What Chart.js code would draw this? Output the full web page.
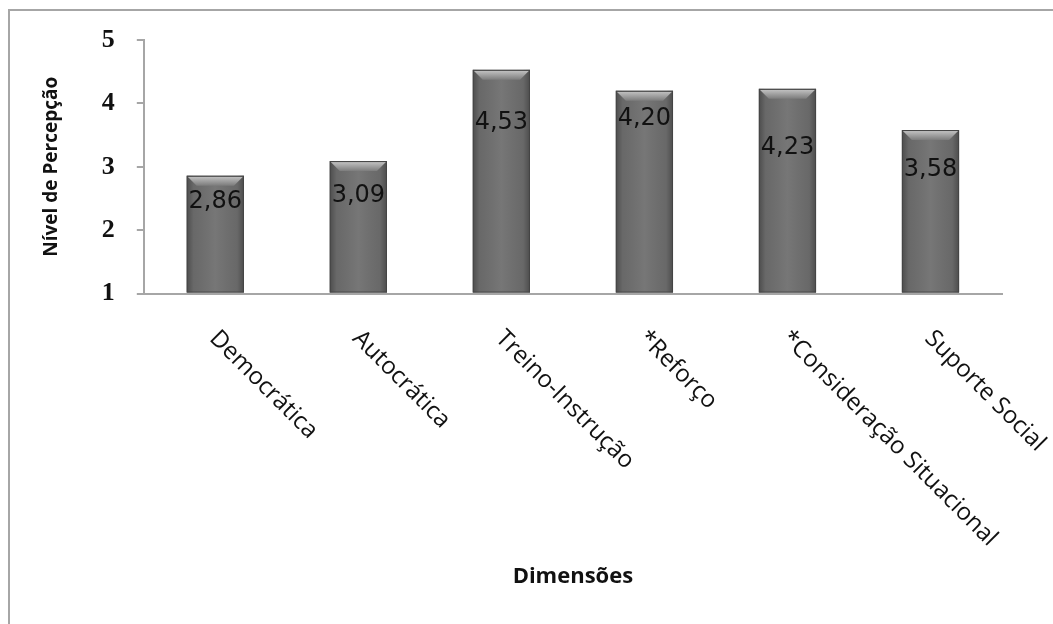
<!DOCTYPE html>
<html>
<head>
<meta charset="utf-8">
<script src="https://cdn.jsdelivr.net/npm/chart.js@4.4.1/dist/chart.umd.min.js"></script>
<style>
  html, body { margin: 0; padding: 0; background: #fff; }
  #wrap { width: 1053px; height: 624px; position: relative; }
</style>
</head>
<body>
<div id="wrap"><canvas id="grafico"></canvas></div>
<script>
// dados
var dimensoes = ["Democrática", "Autocrática", "Treino-Instrução", "*Reforço", "*Consideração Situacional", "Suporte Social"];
var percepcao = [2.86, 3.09, 4.53, 4.20, 4.23, 3.58];
var rotulos = ["2,86", "3,09", "4,53", "4,20", "4,23", "3,58"];
var ticksY = [1, 2, 3, 4, 5];

// how far below the top of each bar the number sits (px)
var descida = [26, 35, 53, 28, 59, 40];

var moldura = {
  id: "moldura",
  beforeDraw: function(chart) {
    var c = chart.ctx;
    c.save();
    c.strokeStyle = "#a6a6a6";
    c.lineWidth = 2;
    c.beginPath();
    c.moveTo(9, chart.height + 5);
    c.lineTo(9, 10);
    c.lineTo(chart.width + 5, 10);
    c.stroke();
    c.restore();
  }
};

var barras3d = {
  id: "barras3d",
  afterDatasetsDraw: function(chart) {
    var c = chart.ctx;
    var meta = chart.getDatasetMeta(0);
    meta.data.forEach(function(bar, i) {
      var l = bar.x - bar.width / 2, r = bar.x + bar.width / 2;
      var t = bar.y, b = bar.base;
      c.save();
      // shading on the sides
      var g = c.createLinearGradient(l, 0, r, 0);
      g.addColorStop(0, "rgba(0,0,0,0.30)");
      g.addColorStop(0.12, "rgba(0,0,0,0.05)");
      g.addColorStop(0.5, "rgba(255,255,255,0.06)");
      g.addColorStop(0.88, "rgba(0,0,0,0.05)");
      g.addColorStop(1, "rgba(0,0,0,0.30)");
      c.fillStyle = g;
      c.fillRect(l, t, r - l, b - t);
      // bevel on top
      var bev = 10;
      var g2 = c.createLinearGradient(0, t, 0, t + bev);
      g2.addColorStop(0, "#c8c8c8");
      g2.addColorStop(1, "#7c7c7c");
      c.fillStyle = g2;
      c.beginPath();
      c.moveTo(l + 1, t + 1);
      c.lineTo(r - 1, t + 1);
      c.lineTo(r - bev, t + bev);
      c.lineTo(l + bev, t + bev);
      c.closePath();
      c.fill();
      c.strokeStyle = "#454545";
      c.lineWidth = 1;
      c.strokeRect(l + 0.5, t + 0.5, r - l - 1, b - t - 1);
      // value
      c.fillStyle = "#111";
      c.font = "24px 'DejaVu Sans'";
      c.textAlign = "center";
      c.textBaseline = "middle";
      c.fillText(rotulos[i], bar.x, t + descida[i]);
      c.restore();
    });
  }
};

var rotulosX = {
  id: "rotulosX",
  afterDraw: function(chart) {
    var c = chart.ctx;
    var sx = chart.scales.x;
    c.save();
    c.fillStyle = "#111";
    c.font = "24px 'Open Sans'";
    c.textAlign = "left";
    c.textBaseline = "middle";
    dimensoes.forEach(function(nome, i) {
      var x = sx.getPixelForValue(i);
      c.save();
      c.translate(x - 2, sx.top + 41);
      c.rotate(Math.PI / 4);
      c.fillText(nome, 0, 0);
      c.restore();
    });
    c.restore();
  }
};

var ctx = document.getElementById("grafico").getContext("2d");

var config = {
  type: "bar",
  data: {
    labels: dimensoes,
    datasets: [{
      data: percepcao,
      base: 1,
      backgroundColor: "#6e6e6e",
      borderWidth: 0,
      barPercentage: 0.4,
      categoryPercentage: 1
    }]
  },
  options: {
    responsive: true,
    maintainAspectRatio: false,
    animation: false,
    layout: { padding: { left: 40, right: 51, top: 40, bottom: 34 } },
    plugins: {
      legend: { display: false },
      tooltip: { enabled: false }
    },
    scales: {
      x: {
        grid: { display: false, drawTicks: false },
        border: { display: true, color: "#a6a6a6", width: 2 },
        ticks: { display: false },
        title: {
          display: true,
          text: "Dimensões",
          color: "#111",
          font: { family: "'Open Sans'", size: 22, weight: "bold" },
          padding: { top: 270, bottom: 0 }
        }
      },
      y: {
        min: 1,
        max: 5,
        afterBuildTicks: function(axis) {
          axis.ticks = ticksY.map(function(v) { return { value: v }; });
        },
        grid: { drawOnChartArea: false, drawTicks: true, tickLength: 7, color: "#a6a6a6", lineWidth: 2 },
        border: { display: true, color: "#a6a6a6", width: 2 },
        ticks: {
          color: "#111",
          padding: 22,
          font: { family: "'Liberation Serif'", size: 26, weight: "bold" }
        },
        title: {
          display: true,
          text: "Nível de Percepção",
          color: "#111",
          font: { family: "'Open Sans'", size: 19, weight: "bold" },
          padding: { top: 0, bottom: 17 }
        }
      }
    }
  },
  plugins: [moldura, barras3d, rotulosX]
};

var grafico = new Chart(ctx, config);
</script>
</body>
</html>
